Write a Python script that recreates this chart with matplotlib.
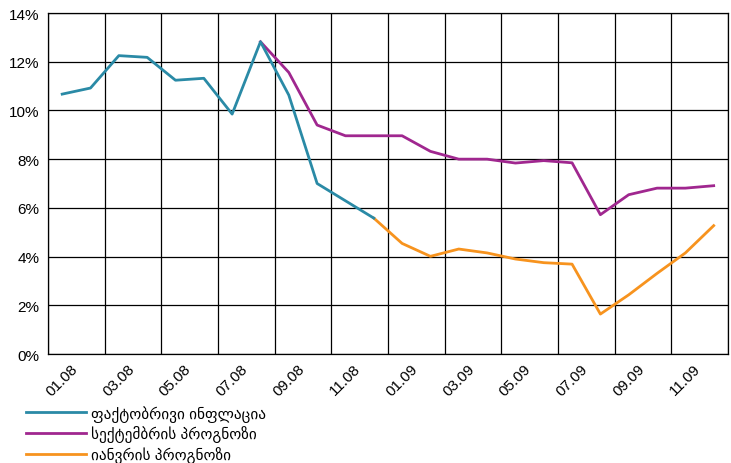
import matplotlib
matplotlib.use("Agg")
import matplotlib.pyplot as plt
import numpy as np
from matplotlib.ticker import FixedLocator, FuncFormatter

plt.rcParams['font.family'] = ['Liberation Sans', 'DejaVu Sans']

# months 01.08 .. 12.09
months = [f"{m:02d}.{y}" for y in ("08", "09") for m in range(1, 13)]

# actual inflation, 01.08 - 12.08
actual = [10.67, 10.92, 12.25, 12.18, 11.24, 11.32, 9.85, 12.82, 10.63, 7.0, 6.29, 5.58]

# September forecast, starts at 08.08
sept_start = 7
sept_forecast = [12.82, 11.56, 9.4, 8.96, 8.96, 8.96, 8.32, 8.0, 8.0, 7.84, 7.94, 7.85,
                 5.72, 6.54, 6.81, 6.81, 6.91]

# January forecast, starts at 12.08
jan_start = 11
jan_forecast = [5.58, 4.54, 4.01, 4.31, 4.15, 3.9, 3.75, 3.69, 1.64, 2.43, 3.31, 4.15, 5.27]

labels = ["ფაქტობრივი ინფლაცია", "სექტემბრის პროგნოზი", "იანვრის პროგნოზი"]
colors = ["#2a8aa6", "#a0278f", "#f7931e"]

fig = plt.figure(figsize=(7.31, 4.64), dpi=100)
ax = fig.add_axes([0.0657, 0.2349, 0.93, 0.7349])

x_actual = np.arange(len(actual))
x_sept = np.arange(sept_start, sept_start + len(sept_forecast))
x_jan = np.arange(jan_start, jan_start + len(jan_forecast))

ax.plot(x_jan, jan_forecast, color=colors[2], lw=2.0, label=labels[2], zorder=3)
ax.plot(x_sept, sept_forecast, color=colors[1], lw=2.0, label=labels[1], zorder=3)
ax.plot(x_actual, actual, color=colors[0], lw=2.0, label=labels[0], zorder=4)

ax.set_xlim(-0.5, len(months) - 0.5)
ax.set_ylim(0, 14)

ax.set_yticks(np.arange(0, 15, 2))
ax.yaxis.set_major_formatter(FuncFormatter(lambda v, p: f"{v:.0f}%"))

ax.set_xticks(np.arange(0, len(months), 2))
ax.set_xticklabels(months[::2], rotation=45, ha="center", va="top")
ax.xaxis.set_minor_locator(FixedLocator(np.arange(-0.5, len(months), 2)))

ax.tick_params(axis="both", which="both", length=0, labelsize=11, colors="black")
ax.tick_params(axis="x", pad=5)
ax.tick_params(axis="y", pad=6)

ax.grid(True, axis="y", which="major", color="black", lw=0.9)
ax.grid(True, axis="x", which="minor", color="black", lw=0.9)
ax.set_axisbelow(True)
for s in ax.spines.values():
    s.set_color("black")
    s.set_linewidth(0.9)

handles, lbls = ax.get_legend_handles_labels()
order = [2, 1, 0]
fig.legend([handles[i] for i in order], [lbls[i] for i in order],
           loc="upper left", bbox_to_anchor=(0.036, 0.125),
           frameon=False, fontsize=11, handlelength=3.9, handletextpad=0.35,
           labelspacing=0.24, borderpad=0, borderaxespad=0)

fig.savefig("out.png", dpi=100)
